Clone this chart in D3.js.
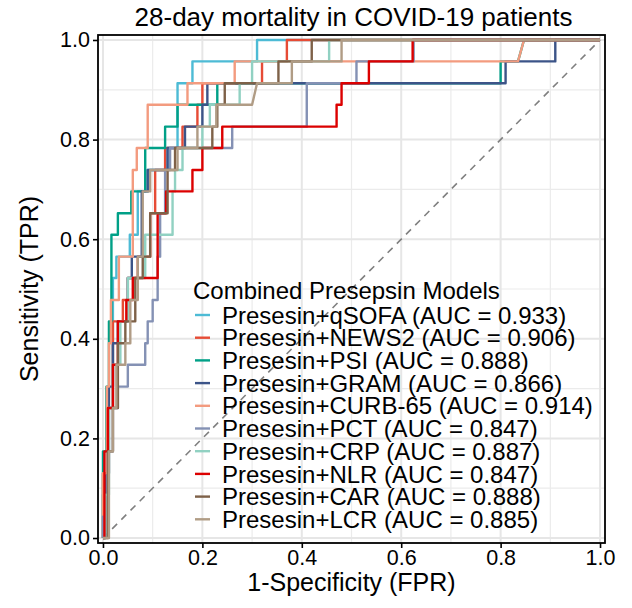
<!DOCTYPE html>
<html>
<head>
<meta charset="utf-8">
<script src="https://cdn.jsdelivr.net/npm/d3@7"></script>
<style>
body { margin: 0; background: #fff; }
svg { display: block; font-family: "Liberation Sans", Arial, sans-serif; }
</style>
</head>
<body>
<svg id="chart" width="632" height="608"></svg>
<script>
// ROC curves as [FPR, TPR] points
const qsofa = [[0,0],[0,0.087],[0.01,0.087],[0.01,0.261],[0.02,0.261],[0.02,0.522],[0.027,0.522],[0.027,0.565],[0.054,0.565],[0.054,0.609],[0.07,0.609],[0.07,0.696],[0.09,0.696],[0.09,0.739],[0.13,0.739],[0.13,0.783],[0.15,0.783],[0.15,0.913],[0.18,0.913],[0.18,0.957],[0.31,0.957],[0.31,1],[1,1]];
const news2 = [[0,0],[0,0.13],[0.01,0.13],[0.01,0.261],[0.02,0.261],[0.02,0.435],[0.04,0.435],[0.04,0.478],[0.05,0.478],[0.05,0.522],[0.07,0.522],[0.07,0.565],[0.095,0.565],[0.095,0.652],[0.105,0.652],[0.105,0.739],[0.125,0.739],[0.125,0.783],[0.16,0.783],[0.16,0.826],[0.19,0.826],[0.19,0.87],[0.2,0.87],[0.2,0.913],[0.32,0.913],[0.32,0.957],[0.37,0.957],[0.37,1],[1,1]];
const psi = [[0,0],[0,0.174],[0.007,0.174],[0.007,0.304],[0.012,0.304],[0.012,0.435],[0.017,0.435],[0.017,0.609],[0.03,0.609],[0.03,0.652],[0.057,0.652],[0.057,0.696],[0.085,0.696],[0.085,0.783],[0.125,0.783],[0.125,0.826],[0.15,0.826],[0.15,0.87],[0.23,0.87],[0.23,0.913],[0.8,0.913],[0.8,0.957],[0.835,0.957],[0.847,1],[1,1]];
const gram = [[0,0],[0.005,0],[0.005,0.13],[0.012,0.13],[0.012,0.304],[0.02,0.304],[0.02,0.391],[0.03,0.391],[0.03,0.435],[0.05,0.435],[0.05,0.522],[0.058,0.522],[0.058,0.565],[0.078,0.565],[0.078,0.696],[0.09,0.696],[0.09,0.739],[0.13,0.739],[0.13,0.783],[0.165,0.783],[0.165,0.826],[0.2,0.826],[0.2,0.87],[0.21,0.87],[0.21,0.913],[0.81,0.913],[0.81,0.957],[0.91,0.957],[0.91,1],[1,1]];
const curb65 = [[0,0],[0,0.13],[0.008,0.13],[0.008,0.304],[0.012,0.304],[0.012,0.391],[0.016,0.391],[0.016,0.478],[0.032,0.478],[0.032,0.565],[0.06,0.565],[0.06,0.739],[0.068,0.739],[0.068,0.783],[0.09,0.783],[0.09,0.87],[0.17,0.87],[0.17,0.913],[0.265,0.913],[0.265,0.957],[0.835,0.957],[0.847,1],[1,1]];
const pct = [[0,0],[0,0.043],[0.01,0.043],[0.01,0.174],[0.02,0.174],[0.02,0.261],[0.03,0.261],[0.03,0.304],[0.05,0.304],[0.05,0.348],[0.085,0.348],[0.085,0.391],[0.09,0.391],[0.09,0.435],[0.1,0.435],[0.1,0.478],[0.11,0.478],[0.11,0.565],[0.115,0.565],[0.115,0.652],[0.125,0.652],[0.125,0.739],[0.135,0.739],[0.135,0.783],[0.26,0.783],[0.26,0.826],[0.41,0.826],[0.41,0.913],[0.51,0.913],[0.51,0.957],[0.625,0.957],[0.625,1],[1,1]];
const crp = [[0,0],[0.005,0],[0.005,0.087],[0.012,0.087],[0.012,0.261],[0.02,0.261],[0.02,0.348],[0.035,0.348],[0.035,0.435],[0.05,0.435],[0.05,0.522],[0.085,0.522],[0.085,0.609],[0.14,0.609],[0.14,0.696],[0.145,0.696],[0.145,0.739],[0.16,0.739],[0.16,0.783],[0.2,0.783],[0.2,0.826],[0.215,0.826],[0.215,0.87],[0.275,0.87],[0.275,0.913],[0.3,0.913],[0.3,0.957],[0.455,0.957],[0.455,1],[1,1]];
const nlr = [[0,0],[0.003,0],[0.003,0.174],[0.01,0.174],[0.01,0.261],[0.02,0.261],[0.02,0.348],[0.03,0.348],[0.03,0.435],[0.047,0.435],[0.047,0.478],[0.06,0.478],[0.06,0.522],[0.11,0.522],[0.11,0.652],[0.127,0.652],[0.127,0.696],[0.18,0.696],[0.18,0.739],[0.2,0.739],[0.2,0.783],[0.24,0.783],[0.24,0.826],[0.47,0.826],[0.47,0.87],[0.48,0.87],[0.48,0.913],[0.535,0.913],[0.535,0.957],[0.623,0.957],[0.623,1],[1,1]];
const car = [[0,0],[0.01,0],[0.01,0.174],[0.02,0.174],[0.02,0.261],[0.03,0.261],[0.03,0.391],[0.045,0.391],[0.045,0.435],[0.065,0.435],[0.065,0.522],[0.08,0.522],[0.08,0.565],[0.095,0.565],[0.095,0.652],[0.13,0.652],[0.13,0.739],[0.145,0.739],[0.145,0.783],[0.22,0.783],[0.22,0.826],[0.23,0.826],[0.23,0.87],[0.245,0.87],[0.245,0.913],[0.353,0.913],[0.353,0.957],[0.42,0.957],[0.42,1],[1,1]];
const lcr = [[0,0],[0.012,0],[0.012,0.174],[0.02,0.174],[0.02,0.261],[0.027,0.261],[0.027,0.348],[0.045,0.348],[0.045,0.391],[0.055,0.391],[0.055,0.478],[0.07,0.478],[0.07,0.565],[0.08,0.565],[0.08,0.696],[0.095,0.696],[0.095,0.739],[0.15,0.739],[0.15,0.783],[0.19,0.783],[0.19,0.826],[0.228,0.826],[0.228,0.87],[0.3,0.87],[0.31,0.913],[0.38,0.913],[0.38,0.957],[0.48,0.957],[0.48,1],[1,1]];

const modelNames = ['qSOFA', 'NEWS2', 'PSI', 'GRAM', 'CURB-65', 'PCT', 'CRP', 'NLR', 'CAR', 'LCR'];
const aucValues = ['0.933', '0.906', '0.888', '0.866', '0.914', '0.847', '0.887', '0.847', '0.888', '0.885'];
const modelColors = ['#4DBBD5', '#E64B35', '#00A087', '#3C5488', '#F39B7F', '#8491B4', '#91D1C2', '#DC0000', '#7E6148', '#B09C85'];
const curves = [qsofa, news2, psi, gram, curb65, pct, crp, nlr, car, lcr];
const tickValues = [0, 0.2, 0.4, 0.6, 0.8, 1.0];
const minorValues = [0.1, 0.3, 0.5, 0.7, 0.9];

const panel = { left: 98, right: 605, top: 35, bottom: 543 };

const svg = d3.select('#chart');

const x = d3.scaleLinear().domain([-0.01, 1.01]).range([panel.left, panel.right]);
const y = d3.scaleLinear().domain([-0.01, 1.01]).range([panel.bottom, panel.top]);

// Grid
const grid = svg.append('g').attr('class', 'grid');
minorValues.forEach(v => {
    grid.append('line').attr('x1', x(v)).attr('x2', x(v)).attr('y1', panel.top).attr('y2', panel.bottom)
        .attr('stroke', '#EBEBEB').attr('stroke-width', 1.2);
    grid.append('line').attr('y1', y(v)).attr('y2', y(v)).attr('x1', panel.left).attr('x2', panel.right)
        .attr('stroke', '#EBEBEB').attr('stroke-width', 1.2);
});
tickValues.forEach(v => {
    grid.append('line').attr('x1', x(v)).attr('x2', x(v)).attr('y1', panel.top).attr('y2', panel.bottom)
        .attr('stroke', '#E6E6E6').attr('stroke-width', 2);
    grid.append('line').attr('y1', y(v)).attr('y2', y(v)).attr('x1', panel.left).attr('x2', panel.right)
        .attr('stroke', '#E6E6E6').attr('stroke-width', 2);
});

// Reference diagonal
svg.append('line')
    .attr('x1', x(0)).attr('y1', y(0)).attr('x2', x(1)).attr('y2', y(1))
    .attr('stroke', '#7F7F7F').attr('stroke-width', 1.6)
    .attr('stroke-dasharray', '7,6');

// ROC curves
const line = d3.line().x(d => x(d[0])).y(d => y(d[1]));
svg.append('g').attr('class', 'curves').selectAll('path')
    .data(curves).enter().append('path')
    .attr('d', line)
    .attr('fill', 'none')
    .attr('stroke', (d, i) => modelColors[i])
    .attr('stroke-width', 2.4)
    .attr('stroke-linejoin', 'round');

// Panel border
svg.append('rect')
    .attr('x', panel.left).attr('y', panel.top)
    .attr('width', panel.right - panel.left).attr('height', panel.bottom - panel.top)
    .attr('fill', 'none').attr('stroke', '#000').attr('stroke-width', 1.8);

// Axes
const xAxis = svg.append('g').attr('transform', `translate(0,${panel.bottom})`)
    .call(d3.axisBottom(x).tickValues(tickValues).tickFormat(d3.format('.1f')).tickSizeOuter(0).tickSize(5).tickPadding(2));
const yAxis = svg.append('g').attr('transform', `translate(${panel.left},0)`)
    .call(d3.axisLeft(y).tickValues(tickValues).tickFormat(d3.format('.1f')).tickSizeOuter(0).tickSize(5).tickPadding(3));
[xAxis, yAxis].forEach(a => {
    a.select('.domain').remove();
    a.selectAll('.tick line').attr('stroke', '#000').attr('stroke-width', 1.6);
    a.selectAll('.tick text').attr('fill', '#000').attr('font-size', '21.5px')
        .attr('font-family', '"Liberation Sans", Arial, sans-serif');
});

// Titles
svg.append('text').attr('x', (panel.left + panel.right) / 2 + 2).attr('y', 26)
    .attr('text-anchor', 'middle').attr('font-size', '26px').attr('fill', '#000')
    .text('28-day mortality in COVID-19 patients');
svg.append('text').attr('x', (panel.left + panel.right) / 2).attr('y', 591)
    .attr('text-anchor', 'middle').attr('font-size', '25px').attr('fill', '#000')
    .text('1-Specificity (FPR)');
svg.append('text').attr('transform', `translate(38,${(panel.top + panel.bottom) / 2}) rotate(-90)`)
    .attr('text-anchor', 'middle').attr('font-size', '25px').attr('fill', '#000')
    .text('Sensitivity (TPR)');

// Legend
const legend = svg.append('g').attr('transform', 'translate(193,299)');
legend.append('text').attr('x', 0).attr('y', 0).attr('font-size', '24px').attr('fill', '#000')
    .text('Combined Presepsin Models');
const rows = legend.selectAll('g.row').data(modelNames).enter().append('g')
    .attr('class', 'row')
    .attr('transform', (d, i) => `translate(0,${16 + i * 22.7})`);
rows.append('line').attr('x1', 2).attr('x2', 17).attr('y1', 0).attr('y2', 0)
    .attr('stroke', (d, i) => modelColors[i]).attr('stroke-width', 2.4);
rows.append('text').attr('x', 29).attr('y', 0).attr('dy', '0.36em')
    .attr('font-size', '24px').attr('fill', '#000')
    .text((d, i) => `Presesin+${d} (AUC = ${aucValues[i]})`);
</script>
</body>
</html>
